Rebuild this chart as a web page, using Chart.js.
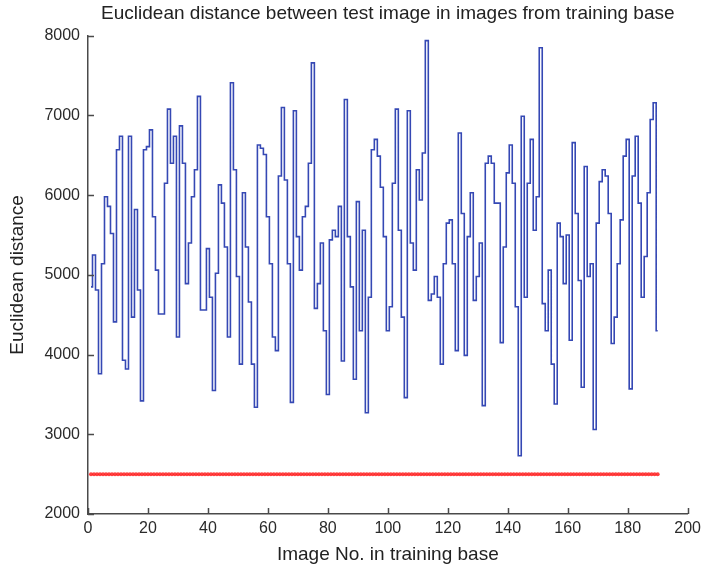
<!DOCTYPE html>
<html>
<head>
<meta charset="utf-8">
<script src="https://cdn.jsdelivr.net/npm/chart.js@4.4.1/dist/chart.umd.min.js"></script>
<style>
  html, body { margin: 0; padding: 0; background: #fff; }
  canvas { display: block; }
</style>
</head>
<body>
<canvas id="myChart" width="706" height="572"></canvas>
<script>
// euclidean distance for each image of the training base
const distances = [
  4850, 5250, 4810, 3760, 5140, 5980, 5860, 5520, 4410, 6570,
  6740, 3930, 3820, 6740, 4470, 5820, 4810, 3420, 6570, 6610,
  6820, 5730, 5060, 4510, 4510, 6150, 7080, 6400, 6740, 4220,
  6870, 6400, 4890, 5400, 5980, 6320, 7240, 4560, 4560, 5330,
  4720, 3550, 5020, 6130, 5900, 5350, 4220, 7410, 6320, 4980,
  3880, 6030, 5350, 4660, 3880, 3340, 6630, 6590, 6510, 5730,
  5140, 4220, 4050, 6240, 7100, 6190, 5140, 3400, 7060, 5480,
  5060, 5730, 5860, 6400, 7660, 4580, 4890, 5400, 4300, 3500,
  5440, 5560, 5480, 5860, 3920, 7200, 5480, 4850, 3690, 5920,
  4300, 5560, 3270, 4720, 6570, 6700, 6490, 6100, 5480, 4300,
  4600, 6150, 7080, 5560, 4470, 3460, 7060, 5400, 5060, 6320,
  5940, 6530, 7940, 4680, 4760, 4980, 4720, 3880, 5140, 5650,
  5690, 5140, 4050, 6780, 5770, 3990, 5480, 6030, 4680, 4980,
  5400, 3360, 6400, 6490, 6400, 5900, 5900, 4150, 5350, 6280,
  6630, 6150, 4600, 2730, 6990, 4720, 6150, 6700, 5560, 5980,
  7850, 4640, 4300, 5060, 3880, 3380, 5650, 5480, 4890, 5500,
  4180, 6660, 5770, 4930, 3590, 6360, 4980, 5140, 3060, 5650,
  6170, 6320, 6240, 5770, 4140, 4470, 5140, 5690, 6490, 6700,
  3570, 6240, 6740, 5900, 4720, 5230, 6030, 6950, 7160, 4300,
];
const imageNo = distances.map((_, i) => i + 1);
const threshold = 2500;

const xTicks = [0, 20, 40, 60, 80, 100, 120, 140, 160, 180, 200];
const yTicks = [2000, 3000, 4000, 5000, 6000, 7000, 8000];

const axisColor = "#4a4a4a";
const textColor = "#2a2a2a";
const fontFamily = "'Liberation Sans', Arial, sans-serif";

// matlab style: tick marks point into the plot
const innerTicks = {
  id: "innerTicks",
  afterDraw(chart) {
    const { ctx, chartArea, scales } = chart;
    ctx.save();
    ctx.strokeStyle = axisColor;
    ctx.lineWidth = 1.5;
    ctx.beginPath();
    xTicks.forEach((v) => {
      const px = Math.round(scales.x.getPixelForValue(v)) + 0.5;
      ctx.moveTo(px, chartArea.bottom);
      ctx.lineTo(px, chartArea.bottom - 6);
    });
    yTicks.forEach((v) => {
      const py = Math.round(scales.y.getPixelForValue(v)) + 0.5;
      ctx.moveTo(chartArea.left, py);
      ctx.lineTo(chartArea.left + 6, py);
    });
    ctx.stroke();
    ctx.restore();
  },
};

const chart = new Chart(document.getElementById("myChart"), {
  type: "line",
  data: {
    datasets: [
      {
        data: imageNo.map((x, i) => ({ x: x, y: distances[i] })),
        borderColor: "#3548b4",
        borderWidth: 1.6,
        pointRadius: 0,
        stepped: "middle",
      },
      {
        data: imageNo.map((x) => ({ x: x, y: threshold })),
        showLine: false,
        pointRadius: 2,
        pointBorderWidth: 0,
        pointBackgroundColor: "rgba(255, 30, 30, 0.85)",
      },
    ],
  },
  options: {
    responsive: false,
    animation: false,
    layout: { padding: { left: 0, right: 14, top: 0, bottom: 0 } },
    scales: {
      x: {
        type: "linear",
        min: 0,
        max: 200,
        afterFit: (s) => { s.height = 58; },
        afterBuildTicks: (s) => { s.ticks = xTicks.map((v) => ({ value: v })); },
        grid: { display: false, drawTicks: false },
        border: { display: true, color: axisColor, width: 1.5 },
        ticks: {
          padding: 5,
          color: textColor,
          font: { family: fontFamily, size: 16 },
          maxRotation: 0,
          callback: (v) => String(v),
        },
        title: {
          display: true,
          text: "Image No. in training base",
          color: "#222",
          font: { family: fontFamily, size: 19 },
          padding: { top: 0, bottom: 6 },
        },
      },
      y: {
        min: 2000,
        max: 8000,
        afterFit: (s) => { s.width = 88; },
        afterBuildTicks: (s) => { s.ticks = yTicks.map((v) => ({ value: v })); },
        grid: { display: false, drawTicks: false },
        border: { display: true, color: axisColor, width: 1.5 },
        ticks: {
          padding: 8,
          color: textColor,
          font: { family: fontFamily, size: 16 },
          callback: (v) => String(v),
        },
        title: {
          display: true,
          text: "Euclidean distance",
          color: "#222",
          font: { family: fontFamily, size: 19 },
          padding: { top: 6, bottom: 0 },
        },
      },
    },
    plugins: {
      legend: { display: false },
      tooltip: { enabled: false },
      title: {
        display: true,
        fullSize: false,
        text: "Euclidean distance between test image in images from training base",
        color: "#222",
        font: { family: fontFamily, size: 19, weight: "normal" },
        padding: { top: 2, bottom: 11 },
      },
    },
  },
  plugins: [innerTicks],
});
</script>
</body>
</html>
